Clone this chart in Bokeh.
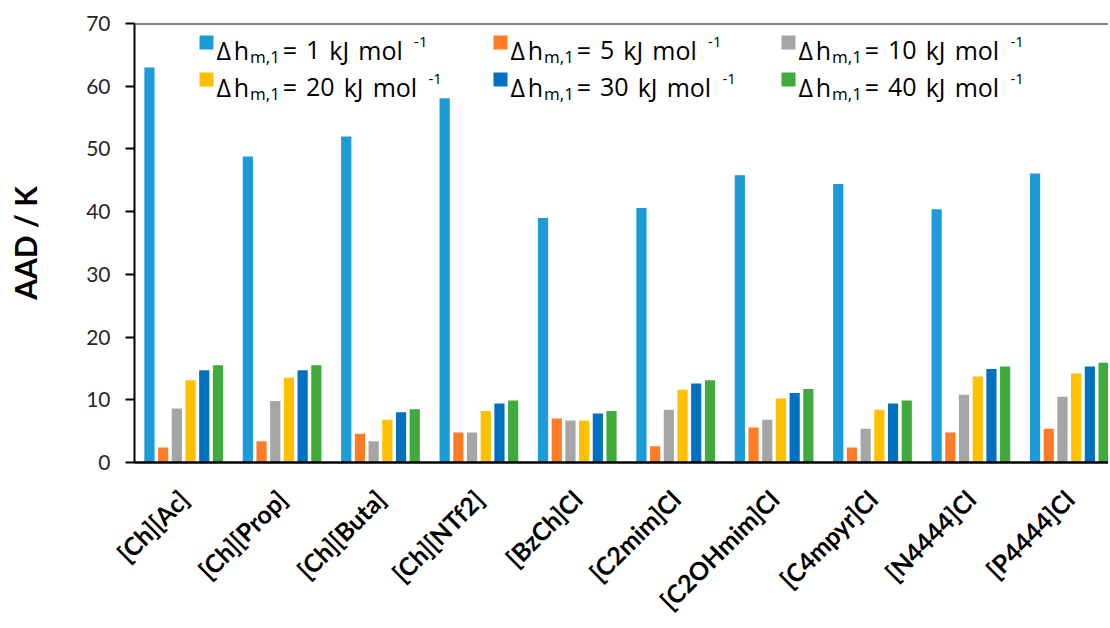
import numpy as np
from bokeh.plotting import figure
from bokeh.models import Range1d, FixedTicker, Span, ColumnDataSource
from bokeh.transform import dodge
from bokeh.embed import file_html
from bokeh.resources import INLINE
from bokeh.core.properties import value

# ---------------- data ----------------
categories = ["[Ch][Ac]", "[Ch][Prop]", "[Ch][Buta]", "[Ch][NTf2]", "[BzCh]Cl",
              "[C2mim]Cl", "[C2OHmim]Cl", "[C4mpyr]Cl", "[N4444]Cl", "[P4444]Cl"]
dh_1 = [63.0, 48.8, 52.0, 58.1, 39.0, 40.6, 45.8, 44.4, 40.4, 46.1]
dh_5 = [2.4, 3.4, 4.6, 4.8, 7.0, 2.6, 5.6, 2.4, 4.8, 5.4]
dh_10 = [8.6, 9.8, 3.4, 4.8, 6.7, 8.4, 6.8, 5.4, 10.8, 10.5]
dh_20 = [13.1, 13.5, 6.8, 8.2, 6.7, 11.6, 10.2, 8.4, 13.7, 14.2]
dh_30 = [14.7, 14.7, 8.0, 9.4, 7.8, 12.6, 11.1, 9.4, 14.9, 15.3]
dh_40 = [15.5, 15.5, 8.5, 9.9, 8.2, 13.1, 11.7, 9.9, 15.3, 15.9]
series_names = ["1", "5", "10", "20", "30", "40"]
y_ticks = [0, 10, 20, 30, 40, 50, 60, 70]

colors = ["#1B9BD7", "#FF7C26", "#A5A5A5", "#FFC000", "#0070C0", "#40AA3C"]

# ---------------- geometry ----------------
W, H = 1108, 628
ML, MT = 134, 23
FRAME_BOTTOM = 462
MB = H - FRAME_BOTTOM
frame_w = W - ML
cat_px = 98.4
x_end = frame_w / cat_px

x_pos = [i + 0.5 for i in range(len(categories))]
src = ColumnDataSource(dict(x=x_pos, s1=dh_1, s5=dh_5, s10=dh_10,
                            s20=dh_20, s30=dh_30, s40=dh_40))
cols = ["s1", "s5", "s10", "s20", "s30", "s40"]

p = figure(width=W, height=H, x_range=Range1d(0, x_end), y_range=Range1d(0, 70),
           output_backend="svg", toolbar_location=None,
           min_border_left=ML, min_border_right=0, min_border_top=MT, min_border_bottom=MB)
p.grid.visible = False
p.outline_line_color = None
p.background_fill_color = "white"
p.border_fill_color = "white"

pitch = 13.7 / cat_px
bw = 10.2 / cat_px
for k, (c, col) in enumerate(zip(cols, colors)):
    p.vbar(x=dodge("x", (k - 2.5) * pitch, range=None), top=c, width=bw, bottom=0,
           source=src, fill_color=col, line_color=None)

# axes
xa = p.xaxis[0]
xa.ticker = FixedTicker(ticks=x_pos)
xa.major_label_overrides = {x: c for x, c in zip(x_pos, categories)}
xa.major_label_orientation = np.pi / 4
xa.major_tick_line_color = None
xa.major_tick_out = 0
xa.major_tick_in = 0
xa.minor_tick_line_color = None
xa.axis_line_width = 2.5
xa.axis_line_color = "black"
xa.major_label_text_font = "Lato"
xa.major_label_text_font_style = "bold"
xa.major_label_text_font_size = "25px"
xa.major_label_text_color = "black"
xa.major_label_standoff = 32

ya = p.yaxis[0]
ya.ticker = FixedTicker(ticks=y_ticks)
ya.major_tick_out = 9
ya.major_tick_in = 0
ya.minor_tick_line_color = None
ya.major_tick_line_width = 2
ya.major_tick_line_color = "black"
ya.axis_line_width = 2
ya.axis_line_color = "black"
ya.major_label_text_font = "Lato"
ya.major_label_text_font_size = "21px"
ya.major_label_text_color = "#262626"
ya.major_label_standoff = 15
ya.axis_label = "AAD / K"
ya.axis_label_text_font = "Lato"
ya.axis_label_text_font_style = "bold"
ya.axis_label_text_font_size = "30px"
ya.axis_label_text_color = "black"
ya.axis_label_standoff = 40

p.add_layout(Span(location=70, dimension="width", line_color="black", line_width=2))

# ---------------- legend (manual, for sub/superscripts) ----------------
px_per_y = (FRAME_BOTTOM - MT) / 70.0


def to_data(xp, yp):
    return (xp - ML) / cat_px, (FRAME_BOTTOM - yp) / px_per_y


LFONT = value("Open Sans")
# approximate Open Sans advance widths (em)
ADV = {"Δ": 0.63, "h": 0.61, "=": 0.57, " ": 0.26, "k": 0.53, "J": 0.27,
       "m": 0.93, "o": 0.60, "l": 0.26, ",": 0.25, "-": 0.32}


def tw(s, size):
    return sum(ADV.get(ch, 0.572) for ch in s) * size


def put(text, xp, yp, size):
    tx, ty = to_data(xp, yp)
    p.text([tx], [ty], text=[text], text_font=LFONT, text_font_size=f"{size}px",
           text_baseline="alphabetic", text_align="left", text_color="black")


MAIN, SUB, SUP = 25, 17, 15
col_left = [199, 493, 781]
row_base = [49, 86]
entries = [(0, 0), (0, 1), (0, 2), (1, 0), (1, 1), (1, 2)]
for k, (r, cidx) in enumerate(entries):
    sx = col_left[cidx]
    by = row_base[r]
    name = series_names[k]
    cx, cy = to_data(sx + 7, by - 7)
    p.scatter([cx], [cy], marker="square", size=14, fill_color=colors[k], line_color=None)
    x = sx + 17
    put("Δ", x, by, MAIN)
    x += tw("Δ", MAIN) + 1.5
    put("h", x, by, MAIN)
    x += tw("h", MAIN) + 1
    put("m,1", x, by + 7, SUB)
    x += tw("m,1", SUB) + 3
    put("=", x, by, MAIN)
    x += tw("=", MAIN) + 9
    put(name, x, by, MAIN)
    x += tw(name, MAIN) + 9
    put("kJ", x, by, MAIN)
    x += tw("kJ", MAIN) + 9
    put("mol", x, by, MAIN)
    x += tw("mol", MAIN) + 11
    put("-1", x, by - 8, SUP)

open("out.html", "w").write(file_html(p, INLINE))
